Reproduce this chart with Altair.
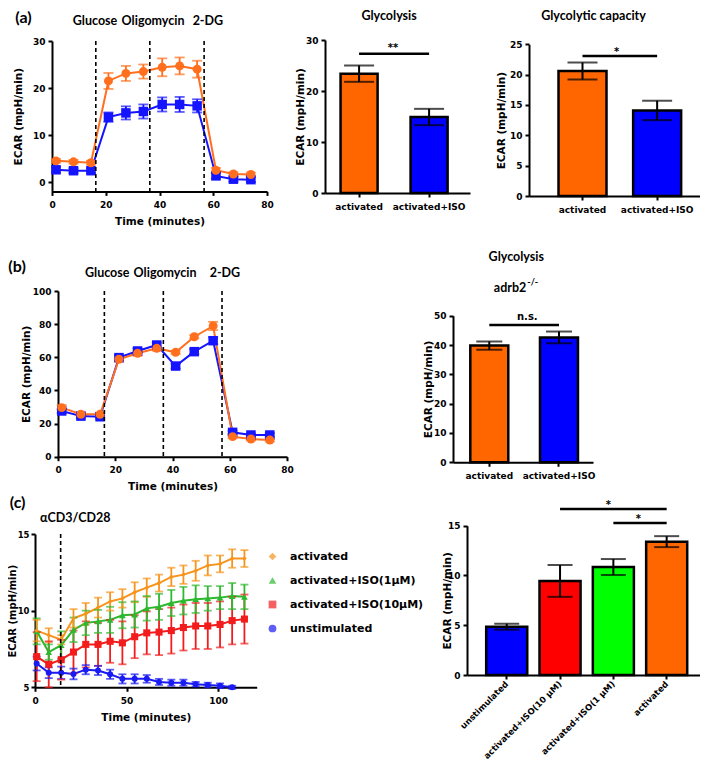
import altair as alt
import pandas as pd

# ---------------- values ----------------
# (a) ECAR time course
a_time = [1.5, 8, 14.5, 21, 27.5, 34, 41, 47.5, 54, 61, 67.5, 74]
a_act_mean = [4.5, 4.3, 4.1, 21.5, 23.1, 23.5, 24.4, 24.7, 24.0, 2.5, 1.7, 1.6]
a_act_sem = [0.4, 0.4, 0.4, 1.7, 1.6, 1.5, 1.9, 1.8, 1.8, 0.5, 0.4, 0.4]
a_iso_mean = [2.6, 2.4, 2.4, 13.8, 14.7, 15.0, 16.5, 16.5, 16.2, 1.3, 0.6, 0.5]
a_iso_sem = [0.6, 0.5, 0.5, 1.0, 1.4, 1.5, 1.5, 1.6, 1.4, 0.6, 0.5, 0.5]
a_injection_time = [16.3, 36.4, 56.6]
injection_names = ["Glucose", "Oligomycin", "2-DG"]

groups_2 = ["activated", "activated+ISO"]
a_glycolysis = [23.4, 14.9]
a_glycolysis_sem = [1.6, 1.6]
a_capacity = [20.6, 14.1]
a_capacity_sem = [1.4, 1.6]

# (b) adrb2-/- cells
b_time = [1.3, 8.0, 14.7, 21.3, 27.8, 34.5, 41.1, 47.6, 54.2, 61.0, 67.4, 74.0]
b_act_mean = [29.6, 25.6, 25.6, 58.8, 62.4, 65.4, 63.0, 72.4, 78.9, 12.1, 10.7, 10.1]
b_act_sem = [1.5, 1.0, 1.0, 1.5, 1.5, 1.5, 1.0, 1.0, 2.5, 1.0, 1.0, 1.0]
b_iso_mean = [27.6, 24.5, 24.1, 59.8, 63.8, 67.4, 54.7, 63.4, 70.0, 14.7, 13.1, 13.1]
b_iso_sem = [1.2, 1.0, 1.0, 1.5, 1.5, 1.5, 1.5, 1.5, 2.0, 1.0, 1.0, 1.0]
b_injection_time = [16.2, 36.8, 57.3]
b_glycolysis = [39.8, 42.6]
b_glycolysis_sem = [1.4, 2.0]

# (c) activation time course
c_time = [0.9, 7.5, 14.3, 21.0, 27.7, 34.4, 41.0, 47.7, 54.4, 61.0,
          67.7, 74.4, 81.0, 87.7, 94.3, 101.0, 107.6, 114.3]
c_act_mean = [8.7, 8.4, 8.1, 9.5, 9.8, 10.2, 10.6, 10.8, 11.2, 11.5,
              11.8, 12.2, 12.35, 12.6, 12.95, 13.05, 13.4, 13.4]
c_act_sem = [0.7, 0.45, 0.3, 0.6, 0.7, 0.65, 0.6, 0.6, 0.65, 0.6,
             0.55, 0.6, 0.6, 0.65, 0.65, 0.55, 0.6, 0.55]
c_iso1_mean = [8.65, 7.3, 7.75, 8.75, 9.2, 9.3, 9.4, 9.7, 9.75, 10.15,
               10.25, 10.5, 10.65, 10.75, 10.8, 10.85, 10.95, 10.9]
c_iso1_sem = [0.85, 0.5, 0.9, 0.8, 0.8, 0.75, 0.85, 0.85, 0.85, 0.8,
              0.85, 0.85, 0.9, 0.9, 0.8, 0.75, 0.85, 0.8]
c_iso10_mean = [7.0, 6.5, 6.8, 7.3, 7.8, 7.8, 8.0, 7.9, 8.3, 8.55,
                8.6, 8.7, 8.9, 9.0, 9.0, 9.1, 9.35, 9.45]
c_iso10_sem = [1.6, 1.5, 1.3, 1.4, 1.5, 1.4, 1.4, 1.4, 1.4, 1.4,
               1.5, 1.5, 1.5, 1.5, 1.5, 1.5, 1.55, 1.6]
c_unst_mean = [6.55, 5.95, 5.95, 5.87, 6.15, 6.1, 5.85, 5.55, 5.55, 5.55,
               5.35, 5.3, 5.3, 5.2, 5.15, 5.1, 5.0]
c_unst_sem = [0.45, 0.35, 0.4, 0.35, 0.3, 0.3, 0.3, 0.3, 0.3, 0.25,
              0.2, 0.2, 0.2, 0.15, 0.15, 0.15, 0.1]
c_stim_time = [14.0]
c_series = ["activated", "activated+ISO(1μM)", "activated+ISO(10μM)", "unstimulated"]

c_groups = ["unstimulated", "activated+ISO(10 μM)", "activated+ISO(1 μM)", "activated"]
c_bar_mean = [4.85, 9.45, 10.85, 13.4]
c_bar_sem = [0.3, 1.6, 0.8, 0.55]

# ---------------- styles ----------------
ORANGE_L = "#FF6F1E"
BLUE_L = "#1414FF"
BAR_ORANGE = "#FF6600"
BAR_BLUE = "#0000FF"
BAR_RED = "#FF0000"
BAR_GREEN = "#00FF00"
C_COLORS = ["#F7941D", "#2DB82D", "#F21C1C", "#1A1AF2"]
AX_FONT = "DejaVu Sans"
T_FONT = "Lato"
YTITLE = "ECAR (mpH/min)"
XTITLE = "Time (minutes)"


def qaxis_factory(chan, domain, rng, axis_kw, zero=False):
    cls = alt.X if chan == "x" else alt.Y

    def f(field, bp=None):
        return cls(field, type="quantitative",
                   scale=alt.Scale(domain=domain, range=rng, nice=False, zero=zero),
                   axis=alt.Axis(**axis_kw))
    return f


def band_factory(domain, rng, pi, po, align, axis_kw):
    def f(field, bp=None):
        kw = {}
        if bp is not None:
            kw["bandPosition"] = bp
        return alt.X(field, type="nominal",
                     scale=alt.Scale(domain=domain, range=rng, paddingInner=pi,
                                     paddingOuter=po, align=align),
                     axis=alt.Axis(**axis_kw), **kw)
    return f


def series_df(name, t, mean, sem, size):
    return pd.DataFrame({
        "t": t[:len(mean)], "v": mean,
        "lo": [m - e for m, e in zip(mean, sem)],
        "hi": [m + e for m, e in zip(mean, sem)],
        "s": name, "sz": size})


def line_layers(df, order, colors, shapes, X, Y, cap, legend=None, lw=2):
    cs = alt.Scale(domain=order, range=colors)
    ss = alt.Scale(domain=order, range=shapes)
    col = alt.Color("s:N", scale=cs, legend=legend)
    shp = alt.Shape("s:N", scale=ss, legend=legend)
    base = alt.Chart(df)
    line = base.mark_line(strokeWidth=lw).encode(x=X("t"), y=Y("v"), color=col)
    err = base.mark_rule(strokeWidth=1.8).encode(x=X("t"), y=Y("lo"), y2="hi", color=col)
    cap_lo = base.mark_tick(orient="horizontal", size=cap, thickness=1.8).encode(
        x=X("t"), y=Y("lo"), color=col)
    cap_hi = base.mark_tick(orient="horizontal", size=cap, thickness=1.8).encode(
        x=X("t"), y=Y("hi"), color=col)
    pts = base.mark_point(filled=True, opacity=1).encode(
        x=X("t"), y=Y("v"), color=col, shape=shp, size=alt.Size("sz:Q", scale=None))
    return [line, err, cap_lo, cap_hi, pts]


def dashed(times, top, bot, X, Y):
    df = pd.DataFrame({"t": times, "top": [top] * len(times), "bot": [bot] * len(times)})
    return alt.Chart(df).mark_rule(strokeDash=[4, 3], strokeWidth=1.6, color="black").encode(
        x=X("t"), y=Y("top"), y2="bot")


def bar_layers(cats, means, sems, fills, X, Y, cap):
    df = pd.DataFrame({"c": cats, "v": means,
                       "lo": [m - e for m, e in zip(means, sems)],
                       "hi": [m + e for m, e in zip(means, sems)],
                       "f": fills})
    base = alt.Chart(df)
    bars = base.mark_bar(stroke="black", strokeWidth=2.5).encode(
        x=X("c"), y=Y("v"), fill=alt.Fill("f:N", scale=None))
    err = base.mark_rule(strokeWidth=2, color="black").encode(x=X("c"), y=Y("lo"), y2="hi")
    c1 = base.mark_tick(orient="horizontal", size=cap, thickness=2, color="black").encode(
        x=X("c"), y=Y("lo"))
    c2 = base.mark_tick(orient="horizontal", size=cap, thickness=2, color="black").encode(
        x=X("c"), y=Y("hi"))
    return [bars, err, c1, c2]


def sig(c1, c2, yv, X, Y):
    df = pd.DataFrame({"a": [c1], "b": [c2], "v": [yv]})
    return alt.Chart(df).mark_rule(strokeWidth=2.5, color="black").encode(
        x=X("a", bp=0.5), x2=alt.X2("b", bandPosition=0.5), y=Y("v"))


def label(txt, xv, yv, X, Y, **mk):
    df = pd.DataFrame({"x": [xv], "v": [yv], "txt": [txt]})
    return alt.Chart(df).mark_text(color="black", **mk).encode(
        x=X("x"), y=Y("v"), text="txt:N")


TITLE_MK = dict(font=T_FONT, fontWeight="bold", fontSize=12.5)
PANEL_MK = dict(font=T_FONT, fontWeight="bold", fontSize=16)
STAR_MK = dict(font=AX_FONT, fontWeight="bold", fontSize=10)

xq_kw = dict(orient="bottom", title=XTITLE, titlePadding=9, minExtent=16, maxExtent=16,
             labelPadding=5)
xb_kw = dict(orient="bottom", title=None, labelPadding=5, labelAngle=0)

# ---------------- panel (a) time course ----------------
A1x = qaxis_factory("x", [0, 80], [44, 259],
                    dict(xq_kw, offset=-573.6, values=[0, 20, 40, 60, 80]))
A1y = qaxis_factory("y", [-2, 30], [183.4, 33],
                    dict(orient="left", offset=-44, values=[0, 10, 20, 30], title=YTITLE,
                         titlePadding=12, minExtent=17, maxExtent=17, labelPadding=3))
dfA1 = pd.concat([series_df("iso", a_time, a_iso_mean, a_iso_sem, 90),
                  series_df("act", a_time, a_act_mean, a_act_sem, 80)])
A1 = line_layers(dfA1, ["act", "iso"], [ORANGE_L, BLUE_L], ["circle", "square"], A1x, A1y, 10)
A1.append(dashed(a_injection_time, 30, -2, A1x, A1y))
for w, xv in zip(injection_names, [16.0, 37.6, 58.0]):
    A1.append(label(w, xv, 34.26, A1x, A1y, **TITLE_MK))
A1.append(label("(a)", -10.6, 35.0, A1x, A1y, **PANEL_MK))

# ---------------- panel (a) glycolysis bars ----------------
A2x = band_factory(groups_2, [317, 462], 0.471, 0.271, 0.41, dict(xb_kw, offset=-572))
A2y = qaxis_factory("y", [0, 30], [185, 32],
                    dict(orient="left", offset=-317, values=[0, 10, 20, 30], title=YTITLE,
                         titlePadding=3, minExtent=17, maxExtent=17, labelPadding=3), zero=True)
A2 = bar_layers(groups_2, a_glycolysis, a_glycolysis_sem, [BAR_ORANGE, BAR_BLUE], A2x, A2y, 30)
A2.append(sig("activated", "activated+ISO", 27.3, A2x, A2y))
A2.append(label("**", "activated", 28.5, A2x, A2y, dx=34, **STAR_MK))
A2.append(label("Glycolysis", "activated", 35.9, A2x, A2y, dx=30, baseline="top", **TITLE_MK))

# ---------------- panel (a) glycolytic capacity bars ----------------
A3x = band_factory(groups_2, [521, 692], 0.357, 0.324, 0.61, dict(xb_kw, offset=-569))
A3y = qaxis_factory("y", [0, 25], [188, 36.3],
                    dict(orient="left", offset=-521, values=[0, 5, 10, 15, 20, 25], title=YTITLE,
                         titlePadding=6, minExtent=17, maxExtent=17, labelPadding=3), zero=True)
A3 = bar_layers(groups_2, a_capacity, a_capacity_sem, [BAR_ORANGE, BAR_BLUE], A3x, A3y, 30)
A3.append(sig("activated", "activated+ISO", 23.07, A3x, A3y))
A3.append(label("*", "activated", 23.65, A3x, A3y, dx=34, **STAR_MK))
A3.append(label("Glycolytic capacity", "activated", 30.7, A3x, A3y, dx=11, baseline="top",
                **TITLE_MK))

# ---------------- panel (b) time course ----------------
B1x = qaxis_factory("x", [0, 80], [50, 279],
                    dict(xq_kw, offset=-308.3, values=[0, 20, 40, 60, 80]))
B1y = qaxis_factory("y", [0, 100], [448.7, 283],
                    dict(orient="left", offset=-50, values=[0, 20, 40, 60, 80, 100], title=YTITLE,
                         titlePadding=5, minExtent=22, maxExtent=22, labelPadding=3))
dfB1 = pd.concat([series_df("iso", b_time, b_iso_mean, b_iso_sem, 90),
                  series_df("act", b_time, b_act_mean, b_act_sem, 80)])
B1 = line_layers(dfB1, ["act", "iso"], [ORANGE_L, BLUE_L], ["circle", "square"], B1x, B1y, 10)
B1.append(dashed(b_injection_time, 100, 0, B1x, B1y))
for w, xv in zip(injection_names, [17.2, 37.4, 58.3]):
    B1.append(label(w, xv, 110.9, B1x, B1y, **TITLE_MK))
B1.append(label("(b)", -14.3, 114.5, B1x, B1y, **PANEL_MK))

# ---------------- panel (b) bars ----------------
B2x = band_factory(groups_2, [445, 585], 0.455, 0.232, 0.535, dict(xb_kw, offset=-302.7))
B2y = qaxis_factory("y", [0, 50], [454.3, 307.7],
                    dict(orient="left", offset=-445, values=[0, 10, 20, 30, 40, 50], title=YTITLE,
                         titlePadding=3, minExtent=17, maxExtent=17, labelPadding=3), zero=True)
B2 = bar_layers(groups_2, b_glycolysis, b_glycolysis_sem, [BAR_ORANGE, BAR_BLUE], B2x, B2y, 26)
B2.append(sig("activated", "activated+ISO", 46.8, B2x, B2y))
B2.append(label("n.s.", "activated", 49.5, B2x, B2y, dx=38, **STAR_MK))
B2.append(label("Glycolysis", "activated", 70.0, B2x, B2y, dx=27, **TITLE_MK))
B2.append(label("adrb2", "activated", 59.5, B2x, B2y, dx=37, align="right", **TITLE_MK))
B2.append(label("-/-", "activated", 61.5, B2x, B2y, dx=38, align="left",
                font=T_FONT, fontWeight="bold", fontSize=9))

# ---------------- panel (c) time course ----------------
C1x = qaxis_factory("x", [0, 121], [27, 248.7],
                    dict(xq_kw, offset=-77.7, values=[0, 50, 100]))
C1y = qaxis_factory("y", [5, 15], [679.3, 526],
                    dict(orient="left", offset=-27, values=[5, 10, 15], title=YTITLE,
                         titlePadding=0, minExtent=18, maxExtent=18, labelPadding=2,
                         labelFontSize=8.5, titleFontSize=10))
dfC1 = pd.concat([series_df(c_series[3], c_time, c_unst_mean, c_unst_sem, 36),
                  series_df(c_series[2], c_time, c_iso10_mean, c_iso10_sem, 50),
                  series_df(c_series[1], c_time, c_iso1_mean, c_iso1_sem, 45),
                  series_df(c_series[0], c_time, c_act_mean, c_act_sem, 20)])
legend_c = alt.Legend(orient="none", legendX=259, legendY=543, title=None,
                      labelFont=AX_FONT, labelFontWeight="bold", labelFontSize=11,
                      labelColor="black", symbolSize=60, symbolStrokeWidth=0,
                      rowPadding=12, labelOffset=12, padding=0)
C1 = line_layers(dfC1, c_series, C_COLORS, ["diamond", "triangle-up", "square", "circle"],
                 C1x, C1y, 8, legend=legend_c)
C1.append(dashed(c_stim_time, 15, 5, C1x, C1y))
C1.append(label("(c)", -9.5, 17.02, C1x, C1y, **PANEL_MK))
C1.append(label("αCD3/CD28", 22.0, 16.04, C1x, C1y, **TITLE_MK))

# ---------------- panel (c) bars ----------------
C2x = band_factory(c_groups, [459, 692], 0.23, 0.3, 0.6,
                   dict(orient="bottom", title=None, offset=-90, labelAngle=-45,
                        labelAlign="right", labelBaseline="middle", labelPadding=3,
                        labelFontSize=8.5))
C2y = qaxis_factory("y", [0, 15], [667, 517.7],
                    dict(orient="left", offset=-459, values=[0, 5, 10, 15], title=YTITLE,
                         titlePadding=0, minExtent=15, maxExtent=15, labelPadding=3), zero=True)
C2 = bar_layers(c_groups, c_bar_mean, c_bar_sem, [BAR_BLUE, BAR_RED, BAR_GREEN, BAR_ORANGE],
                C2x, C2y, 25)
C2.append(sig(c_groups[1], c_groups[3], 16.68, C2x, C2y))
C2.append(sig(c_groups[2], c_groups[3], 15.27, C2x, C2y))
C2.append(label("*", c_groups[2], 17.03, C2x, C2y, dx=-5, **STAR_MK))
C2.append(label("*", c_groups[2], 15.72, C2x, C2y, dx=25, **STAR_MK))

panels = [alt.layer(*p) for p in [A1, A2, A3, B1, B2, C1, C2]]

chart = alt.layer(*panels).resolve_scale(
    x="independent", y="independent", color="independent", shape="independent"
).resolve_axis(
    x="independent", y="independent"
).properties(
    width=692, height=757, padding=0,
    autosize=alt.AutoSizeParams(type="none"), background="white"
).configure_axis(
    domainColor="black", domainWidth=2, tickColor="black", tickWidth=2, tickSize=4,
    labelColor="black", labelFont=AX_FONT, labelFontWeight="bold", labelFontSize=9,
    titleColor="black", titleFont=AX_FONT, titleFontWeight="bold", titleFontSize=10.5,
    grid=False, labelFlush=False, labelOverlap=False
).configure_view(stroke=None)

chart.save("out.html", embed_options={"renderer": "svg", "actions": False})
